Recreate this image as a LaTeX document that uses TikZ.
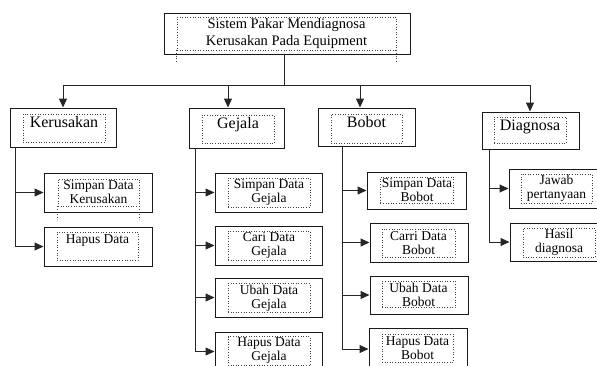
\documentclass[tikz,border=0pt]{standalone}
\usepackage{fontspec}
\setmainfont{Liberation Serif}
\usetikzlibrary{arrows.meta}

\tikzset{
  luar/.style={draw=black!90, line width=1pt, inner sep=0pt},
  isi/.style={draw=black!75, dotted, line width=0.6pt, inner sep=1.5pt, align=center},
  kotak/.style 2 args={minimum width=#1, minimum height=#2},
  judul/.style={font=\fontsize{14.5}{17}\selectfont},
  menu/.style={font=\fontsize{16}{18}\selectfont, text height=11pt},
  sub/.style={font=\fontsize{13.5}{14}\selectfont},
  garis/.style={draw=black!85, line width=1pt},
  titik/.style={draw=black!75, dotted, line width=0.6pt},
  panah/.style={garis, -{Triangle[length=9pt,width=8pt]}}
}

\begin{document}
\begin{tikzpicture}[x=1pt, y=-1pt]
  \useasboundingbox (0,0) rectangle (597,365);
  \clip (0,0) rectangle (597,365);

  % judul
  \node[luar, kotak={246pt}{41pt}] (sistem) at (287,33.5) {};
  \node[isi, judul, kotak={219pt}{29pt}] (tsistem) at (286.5,33.5)
    {Sistem Pakar Mendiagnosa\\Kerusakan Pada Equipment};
  \draw[titik] (tsistem.south west) -- ++(0,12);
  \draw[titik] (tsistem.south east) -- ++(0,12);

  % menu utama
  \node[luar, kotak={106pt}{39pt}] (kerusakan) at (63,127.5) {};
  \node[isi, menu, kotak={82pt}{28pt}, text depth=13pt] (tkerusakan) at (64,128) {Kerusakan};
  \node[luar, kotak={95pt}{40pt}] (gejala) at (236.5,128) {};
  \node[isi, menu, kotak={72pt}{28pt}, text depth=13pt] (tgejala) at (238,129) {Gejala};
  \node[luar, kotak={97pt}{38pt}] (bobot) at (366.5,127) {};
  \node[isi, menu, kotak={71pt}{29pt}, text depth=14pt] (tbobot) at (366.5,128.5) {Bobot};
  \node[luar, kotak={97pt}{37pt}] (diagnosa) at (530.5,130.5) {};
  \node[isi, menu, kotak={72pt}{26pt}, text depth=11pt] (tdiagnosa) at (530,130) {Diagnosa};

  \coordinate (bagi) at (284,85);
  \coordinate (a1) at (63,85);
  \coordinate (a2) at (228,85);
  \coordinate (a3) at (360,85);
  \coordinate (a4) at (530,85);
  \draw[garis] (bagi |- sistem.south) -- (bagi);
  \draw[garis] (a1) -- (a4);
  \draw[panah] (a1) -- (a1 |- kerusakan.north);
  \draw[panah] (a2) -- (a2 |- gejala.north);
  \draw[panah] (a3) -- (a3 |- bobot.north);
  \draw[panah] (a4) -- (a4 |- diagnosa.north);

  % kerusakan
  \node[luar, kotak={108pt}{39pt}] (k1) at (98,192.5) {};
  \node[isi, sub, kotak={81pt}{27pt}] (tk1) at (98.5,192.5) {Simpan Data\\Kerusakan};
  \draw[titik] (tk1.south west) -- ++(0,13);
  \draw[titik] (tk1.south east) -- ++(0,13);
  \node[luar, kotak={108pt}{39pt}] (k2) at (98,246.5) {};
  \node[isi, sub, kotak={81pt}{28pt}, text height=10pt, text depth=15pt] (tk2) at (97.5,246) {Hapus Data};
  \coordinate (kk) at (15,147);
  \draw[panah] (kk) |- (k1.west);
  \draw[panah] (kk) |- (k2.west);

  % gejala
  \node[luar, kotak={107pt}{39pt}] (g1) at (268.5,192.5) {};
  \node[isi, sub, kotak={82pt}{27pt}] (tg1) at (269,192.5) {Simpan Data\\Gejala};
  \node[luar, kotak={107pt}{39pt}] (g2) at (268.5,245.5) {};
  \node[isi, sub, kotak={82pt}{27pt}] (tg2) at (269,245.5) {Cari Data\\Gejala};
  \node[luar, kotak={107pt}{39pt}] (g3) at (268.5,297.5) {};
  \node[isi, sub, kotak={82pt}{28pt}] (tg3) at (269,298) {Ubah Data\\Gejala};
  \node[luar, kotak={107pt}{39pt}] (g4) at (268.5,351.5) {};
  \node[isi, sub, kotak={82pt}{28pt}] (tg4) at (269,351) {Hapus Data\\Gejala};
  \coordinate (gg) at (195,148);
  \foreach \n in {g1,g2,g3,g4}
    \draw[panah] (gg) |- (\n.west);

  % bobot
  \node[luar, kotak={99pt}{37pt}] (b1) at (416.5,190.5) {};
  \node[isi, sub, kotak={72pt}{26pt}] (tb1) at (417,190) {Simpan Data\\Bobot};
  \node[luar, kotak={98pt}{39pt}] (b2) at (419,242.5) {};
  \node[isi, sub, kotak={73pt}{28pt}] (tb2) at (418.5,243) {Carri Data\\Bobot};
  \node[luar, kotak={98pt}{38pt}] (b3) at (419,295) {};
  \node[isi, sub, kotak={73pt}{25pt}] (tb3) at (418.5,294.5) {Ubah Data\\Bobot};
  \node[luar, kotak={98pt}{42pt}] (b4) at (418,349) {};
  \node[isi, sub, kotak={71pt}{28pt}] (tb4) at (417.5,348) {Hapus Data\\Bobot};
  \coordinate (bb) at (342,146);
  \foreach \n in {b1,b2,b3,b4}
    \draw[panah] (bb) |- (\n.west);

  % diagnosa
  \node[luar, kotak={101pt}{39pt}] (d1) at (559.5,188.5) {};
  \node[isi, sub, kotak={71pt}{29pt}] (td1) at (556.5,188.5) {Jawab\\pertanyaan};
  \node[luar, kotak={100pt}{38pt}] (d2) at (560,242) {};
  \node[isi, sub, kotak={72pt}{29pt}] (td2) at (559,242.5) {Hasil\\diagnosa};
  \coordinate (dd) at (489,149);
  \draw[panah] (dd) |- (d1.west);
  \draw[panah] (dd) |- (d2.west);
\end{tikzpicture}
\end{document}
